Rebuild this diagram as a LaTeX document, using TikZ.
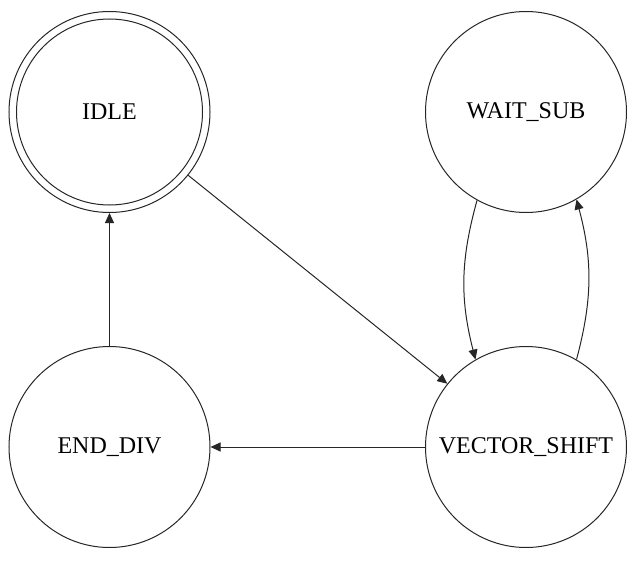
\documentclass[tikz,border=0pt]{standalone}
\usepackage{fontspec}
\setmainfont{Liberation Serif}
\usetikzlibrary{arrows.meta}
\begin{document}
\begin{tikzpicture}[x=1pt,y=1pt,
  state/.style={circle,draw=black!85,line width=1pt,minimum size=201pt,inner sep=0pt,
    font=\fontsize{24}{28}\selectfont},
  trans/.style={line width=1pt,draw=black!85,-{Triangle[length=10pt,width=9pt]}}]
  \useasboundingbox (0,0) rectangle (641,-562);
  \node[state] (idle) at (109.5,-112) {IDLE};
  \draw[line width=1pt,black!85] (idle.center) circle[radius=93];
  \node[state] (wait) at (526,-112) {WAIT\_SUB};
  \node[state] (end) at (109.5,-447) {END\_DIV};
  \node[state] (vs) at (526,-447) {VECTOR\_SHIFT};
  % transitions
  \draw[trans] (idle) -- (vs);
  \draw[trans] (end) -- (idle);
  \draw[trans] (vs) -- (end);
  \draw[trans] (wait.-119) to[bend right=15] (vs.120);
  \draw[trans] (vs.60) to[bend right=15] (wait.-60);
\end{tikzpicture}
\end{document}
